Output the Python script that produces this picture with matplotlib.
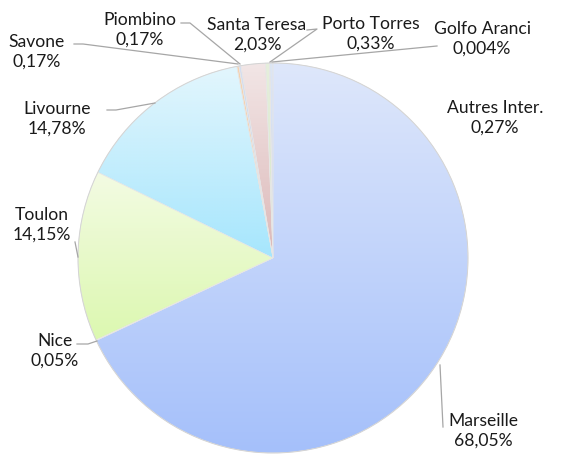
import numpy as np
import matplotlib.pyplot as plt
from matplotlib.colors import LinearSegmentedColormap

# slice data, clockwise from 12 o'clock
ports = ["Marseille", "Nice", "Toulon", "Livourne", "Savone", "Piombino",
         "Santa Teresa", "Porto Torres", "Golfo Aranci", "Autres Inter."]
shares = [68.05, 0.05, 14.15, 14.78, 0.17, 0.17, 2.03, 0.33, 0.004, 0.27]
share_labels = ["68,05%", "0,05%", "14,15%", "14,78%", "0,17%", "0,17%",
                "2,03%", "0,33%", "0,004%", "0,27%"]

# gradient fills (top colour, bottom colour)
fills = [("#dee7fb", "#a5c0fa"), ("#f6d6b8", "#f6d6b8"), ("#f3fbe3", "#dcf8b0"),
         ("#e3f6fd", "#a6e6fd"), ("#f6d2b0", "#f6d2b0"), ("#d6def2", "#c4d2f0"),
         ("#f2e6e6", "#dcb8b8"), ("#e6efdc", "#d6e6c8"), ("#cccccc", "#cccccc"),
         ("#dde6f5", "#c8d6f2")]

W, H = 562, 457
fig = plt.figure(figsize=(W / 100, H / 100), dpi=100)
ax = fig.add_axes([0, 0, 1, 1])

cx, cy, r = 273, H - 258, 195
wedges, _ = ax.pie(shares, center=(cx, cy), radius=r, startangle=90,
                   counterclock=False, frame=True,
                   wedgeprops=dict(edgecolor="#e6e6e6", linewidth=0.4))
ax.set_xlim(0, W)
ax.set_ylim(0, H)
ax.set_aspect("equal")
ax.axis("off")

grad = np.linspace(1, 0, 256).reshape(-1, 1)
for w, (top, bot) in zip(wedges, fills):
    bb = w.get_path().get_extents(w.get_patch_transform())
    cmap = LinearSegmentedColormap.from_list("g", [bot, top])
    im = ax.imshow(grad, cmap=cmap, extent=(bb.x0, bb.x1, bb.y0, bb.y1),
                   origin="upper", aspect="auto", zorder=1)
    im.set_clip_path(w)
    w.set_facecolor("none")
    w.set_zorder(2)

ax.set_xlim(0, W)
ax.set_ylim(0, H)

# outer rim
rim = plt.Circle((cx, cy), r, fill=False, edgecolor="#d4d4d4", linewidth=0.7, zorder=3)
ax.add_patch(rim)

# label positions (pixel, centre of the two-line block) and leader lines
label_pos = {
    "Marseille": (483, 431), "Nice": (55, 351), "Toulon": (42, 225),
    "Livourne": (57, 119), "Savone": (37, 52), "Piombino": (140, 30),
    "Santa Teresa": (257, 35), "Porto Torres": (371, 34),
    "Golfo Aranci": (482, 39), "Autres Inter.": (495, 118),
}
leaders = {
    "Marseille": [(440, 365), (443, 427)],
    "Nice": [(77, 344), (88, 344), (97, 341)],
    "Toulon": [(75, 242), (78, 257)],
    "Livourne": [(107, 110), (116, 110), (155, 103)],
    "Savone": [(74, 44), (83, 44), (238, 64)],
    "Piombino": [(181, 23), (190, 23), (240, 64)],
    "Porto Torres": [(307, 30), (317, 29), (270, 62)],
    "Golfo Aranci": [(437, 46), (272, 62)],
}

for name, pts in leaders.items():
    xs = [p[0] for p in pts]
    ys = [H - p[1] for p in pts]
    ax.plot(xs, ys, color="#a6a6a6", linewidth=0.9, zorder=4)

for name, lab in zip(ports, share_labels):
    x, y = label_pos[name]
    ax.text(x, H - y, name + "\n" + lab, ha="center", va="center",
            fontsize=12.6, family="Lato", color="#1a1a1a", linespacing=1.25, zorder=5)

fig.savefig("out.png", dpi=100)
